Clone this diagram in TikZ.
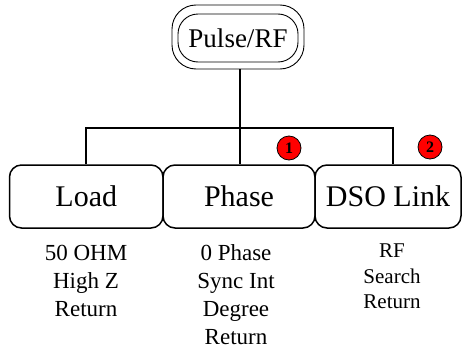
\documentclass[tikz,border=0pt]{standalone}
\usepackage{fontspec}
\setmainfont{Liberation Serif}
\begin{document}
\begin{tikzpicture}[x=1pt,y=-1pt,
  menubox/.style={draw, line width=1.5pt, rounded corners=12pt, minimum height=63pt, inner sep=0pt, font=\fontsize{30}{30}\selectfont},
  link/.style={line width=1.6pt},
  badge/.style={circle, draw=black, line width=0.8pt, fill=red, minimum size=24pt, inner sep=0pt, font=\fontsize{16}{16}\selectfont\bfseries},
  lblA/.style={anchor=base, inner sep=0pt, font=\fontsize{23}{23}\selectfont},
  lblB/.style={anchor=base, inner sep=0pt, font=\fontsize{21}{21}\selectfont}]
\useasboundingbox (0,0) rectangle (462,348);
% top node
\node[draw, line width=0.9pt, rounded corners=24pt, minimum width=132pt, minimum height=64pt] (top) at (238,37) {};
\node[draw, line width=0.9pt, rounded corners=20pt, minimum width=120pt, minimum height=48pt, inner sep=0pt, font=\fontsize{27}{27}\selectfont] (topin) at (238,38) {Pulse/RF};
% menu boxes
\node[menubox, minimum width=153.5pt] (load) at (86.25,196.5) {Load};
\node[menubox, minimum width=152pt] (phase) at (239,196.5) {Phase};
\node[menubox, minimum width=146pt] (dso) at (388,196.5) {DSO Link};
% tree
\coordinate (j) at (240,128);
\draw[link] (top.south -| j) -- (phase.north -| j);
\draw[link] (load.north) |- (j) -| ([xshift=5pt]dso.north);
% badges
\node[badge] (b1) at (289,148) {1};
\node[badge] (b2) at (430,147) {2};
% labels
\node[lblA] (l1) at (86,260) {50 OHM};
\node[lblA] (l2) at (86,288) {High Z};
\node[lblA] (l3) at (86,316) {Return};
\node[lblA] (m1) at (236,260) {0 Phase};
\node[lblA] (m2) at (236,288) {Sync Int};
\node[lblA] (m3) at (236,316.5) {Degree};
\node[lblA] (m4) at (236,344) {Return};
\node[lblB] (r1) at (392,257) {RF};
\node[lblB] (r2) at (392,283) {Search};
\node[lblB] (r3) at (392,308) {Return};
\end{tikzpicture}
\end{document}
